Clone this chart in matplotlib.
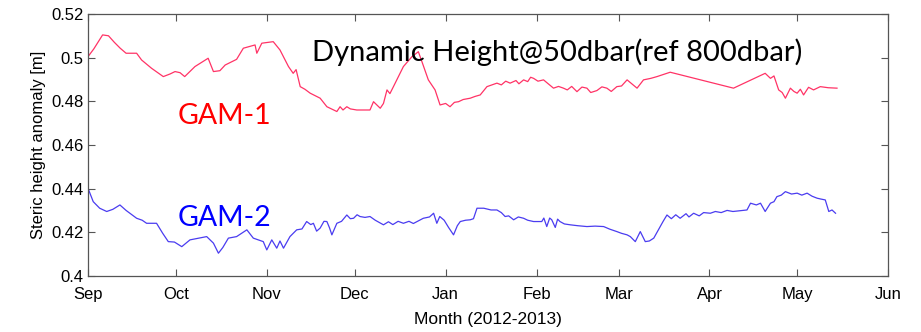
import numpy as np
import matplotlib
matplotlib.use("Agg")
import matplotlib.pyplot as plt

# days since 2012-09-01
gam1_day = [0, 2, 5, 7, 9, 11, 13, 16.6, 18.3, 21.7, 25.7, 28, 29.7, 31.4, 33, 36.5, 41, 42.8,
            45, 46.8, 50.7, 53, 57, 57.6, 59.3, 63.2, 65.5, 68.4, 70, 71, 72.4, 74, 75.8, 79.2,
            81.5, 84.9, 86, 87, 88.3, 89.5, 91.7, 96.2, 97.4, 99.7, 100.8, 102, 103, 104.2,
            107.6, 110.5, 112.7, 113.9, 116.1, 118.4, 120.1, 122, 123.5, 125, 126.4, 128,
            130.4, 132, 133.8, 136.1, 139.5, 141, 142.5, 144, 146, 147, 148.6, 150, 151, 152,
            153.5, 155.4, 157, 158.8, 160.5, 162.2, 163.5, 165, 166.8, 168.5, 170.2, 171.5,
            173.6, 175.3, 177, 178.5, 180.4, 182, 183.9, 185.5, 187.3, 189.5, 192, 194.1,
            198.6, 220.2, 231, 232.8, 234, 235.6, 236.8, 237.9, 239.6, 240.8, 241.9, 243,
            244.1, 245.8, 247.5, 249.8, 252.5, 255.5]
gam1_val = [0.5004, 0.504, 0.5104, 0.5100, 0.507, 0.5043, 0.5020, 0.5020, 0.4989, 0.4951,
            0.4913, 0.4925, 0.4936, 0.4931, 0.4913, 0.4959, 0.4997, 0.4936, 0.4940, 0.4966,
            0.4992, 0.5043, 0.5058, 0.5020, 0.5066, 0.5073, 0.5035, 0.4959, 0.4928, 0.4945,
            0.4867, 0.4855, 0.4837, 0.4814, 0.4775, 0.4753, 0.4775, 0.4760, 0.4775, 0.4765,
            0.4760, 0.4760, 0.4798, 0.4768, 0.4790, 0.4852, 0.4835, 0.4867, 0.4959, 0.5004,
            0.5027, 0.4982, 0.4898, 0.4852, 0.4783, 0.4790, 0.4775, 0.4795, 0.4798, 0.4808,
            0.4814, 0.4822, 0.4829, 0.4867, 0.4883, 0.4875, 0.4892, 0.4883, 0.4895, 0.4880,
            0.4898, 0.4890, 0.4910, 0.4905, 0.4892, 0.4898, 0.4880, 0.4860, 0.4868, 0.4860,
            0.4852, 0.4868, 0.4844, 0.4865, 0.4860, 0.4840, 0.4849, 0.4866, 0.4860, 0.4845,
            0.4867, 0.4870, 0.4898, 0.4880, 0.4860, 0.4898, 0.4905, 0.4913, 0.4933, 0.4860,
            0.4928, 0.4905, 0.4916, 0.4852, 0.4840, 0.4814, 0.4860, 0.4845, 0.4837, 0.4855,
            0.4829, 0.4864, 0.4852, 0.4867, 0.4862, 0.4860]

gam2_day = [0, 1.8, 4, 6.4, 8.5, 10.9, 13, 16.6, 18.5, 20, 23.4, 25.5, 27.4, 29.5, 32, 34.8,
            37.5, 40.5, 42.8, 44.5, 46, 47.9, 50.7, 54.2, 56.4, 59.8, 61, 62.7, 64.4, 65.5,
            66.7, 68.9, 71.2, 73, 74.6, 76, 76.9, 78, 79.2, 80.5, 81.5, 82.4, 83.2, 84.9, 86.5,
            88.3, 89.5, 90.6, 91.8, 92.8, 94.5, 96.2, 98, 100.8, 102.5, 104, 105.8, 107.6,
            109.5, 111, 114.4, 116.5, 117.9, 119, 120, 121.5, 123, 124.7, 126, 127, 128.8,
            130.4, 131.5, 132.7, 135, 137.5, 139.5, 141, 142.3, 143.5, 145.2, 146.8, 148.6,
            150, 152, 154.8, 155.5, 156.5, 157.5, 158.2, 159.4, 160.2, 161, 162.5, 164.5, 167,
            170.2, 173, 175.9, 178, 180.4, 182, 183.9, 185, 186.7, 188.4, 190.1, 191.5, 193,
            195.2, 196.2, 197.5, 199, 200.5, 202, 204, 205, 206.6, 208.5, 210, 212.3, 214, 216,
            218, 220, 222, 224.8, 226, 228, 229.4, 231, 232.8, 234, 235, 236.5, 237.9, 240,
            241.9, 243.5, 245.3, 247, 248.7, 250, 251.5, 252.7, 253.8, 255]
gam2_val = [0.4402, 0.4340, 0.4310, 0.4295, 0.4305, 0.4325, 0.4300, 0.4264, 0.4255, 0.4241,
            0.4241, 0.4195, 0.4157, 0.4155, 0.4134, 0.4165, 0.4172, 0.4180, 0.4150, 0.4104,
            0.4130, 0.4173, 0.4180, 0.4211, 0.4173, 0.4157, 0.4119, 0.4165, 0.4127, 0.4160,
            0.4127, 0.4180, 0.4211, 0.4215, 0.4249, 0.4235, 0.4241, 0.4205, 0.4219, 0.4250,
            0.4249, 0.4220, 0.4188, 0.4241, 0.4250, 0.4279, 0.4262, 0.4264, 0.4280, 0.4272,
            0.4268, 0.4272, 0.4255, 0.4234, 0.4248, 0.4235, 0.4250, 0.4241, 0.4250, 0.4240,
            0.4264, 0.4270, 0.4287, 0.4241, 0.4272, 0.4255, 0.4222, 0.4188, 0.4230, 0.4249,
            0.4255, 0.4257, 0.4262, 0.4310, 0.4310, 0.4302, 0.4302, 0.4290, 0.4272, 0.4275,
            0.4257, 0.4270, 0.4264, 0.4255, 0.4249, 0.4249, 0.4265, 0.4226, 0.4265, 0.4257,
            0.4222, 0.4260, 0.4249, 0.4238, 0.4234, 0.4230, 0.4226, 0.4228, 0.4226, 0.4214,
            0.4203, 0.4195, 0.4188, 0.4180, 0.4157, 0.4203, 0.4157, 0.4160, 0.4173, 0.4226,
            0.4250, 0.4279, 0.4262, 0.4280, 0.4264, 0.4285, 0.4270, 0.4287, 0.4275, 0.4290,
            0.4287, 0.4295, 0.4290, 0.4300, 0.4295, 0.4298, 0.4302, 0.4333, 0.4325, 0.4333,
            0.4295, 0.4333, 0.4340, 0.4363, 0.4370, 0.4386, 0.4375, 0.4379, 0.4370, 0.4379,
            0.4365, 0.4356, 0.4352, 0.4348, 0.4295, 0.4302, 0.4287]

month_labels = ["Sep", "Oct", "Nov", "Dec", "Jan", "Feb", "Mar", "Apr", "May", "Jun"]
month_starts = np.arange("2012-09", "2013-07", dtype="datetime64[M]")
month_days = (month_starts.astype("datetime64[D]") - np.datetime64("2012-09-01")).astype(int)

fig = plt.figure(figsize=(9.21, 3.32), dpi=100)
ax = fig.add_axes([0.0955, 0.169, 0.869, 0.789])

ax.plot(gam1_day, gam1_val, color="#ff3366", lw=0.9)
ax.plot(gam2_day, gam2_val, color="#4a3cf0", lw=0.9)

ax.set_xlim(month_days[0], month_days[-1])
ax.set_ylim(0.4, 0.52)
ax.set_xticks(month_days)
ax.set_xticklabels(month_labels)
ax.set_yticks([0.4, 0.42, 0.44, 0.46, 0.48, 0.5, 0.52])
ax.set_yticklabels(["0.4", "0.42", "0.44", "0.46", "0.48", "0.5", "0.52"])
ax.tick_params(direction="in", top=True, right=True, length=5, width=0.8,
               color="#555555", labelsize=12, pad=3)
ax.tick_params(axis="x", pad=8)
for lab in ax.get_xticklabels() + ax.get_yticklabels():
    lab.set_family("Liberation Sans")
for sp in ax.spines.values():
    sp.set_color("#555555")
    sp.set_linewidth(0.9)

ax.set_xlabel("Month (2012-2013)", fontsize=12.5, family="Liberation Sans", labelpad=7)
ax.set_ylabel("Steric height anomaly [m]", fontsize=12, family="Liberation Sans", labelpad=4)

ax.text(0.28, 0.855, "Dynamic Height@50dbar(ref 800dbar)", transform=ax.transAxes,
        fontsize=21, family="Lato", va="center", ha="left", color="black")
ax.text(0.112, 0.61, "GAM-1", transform=ax.transAxes, fontsize=20.5, family="Lato",
        va="center", ha="left", color="#ff0000")
ax.text(0.112, 0.22, "GAM-2", transform=ax.transAxes, fontsize=20.5, family="Lato",
        va="center", ha="left", color="#0000ff")

fig.savefig("out.png", dpi=100)
